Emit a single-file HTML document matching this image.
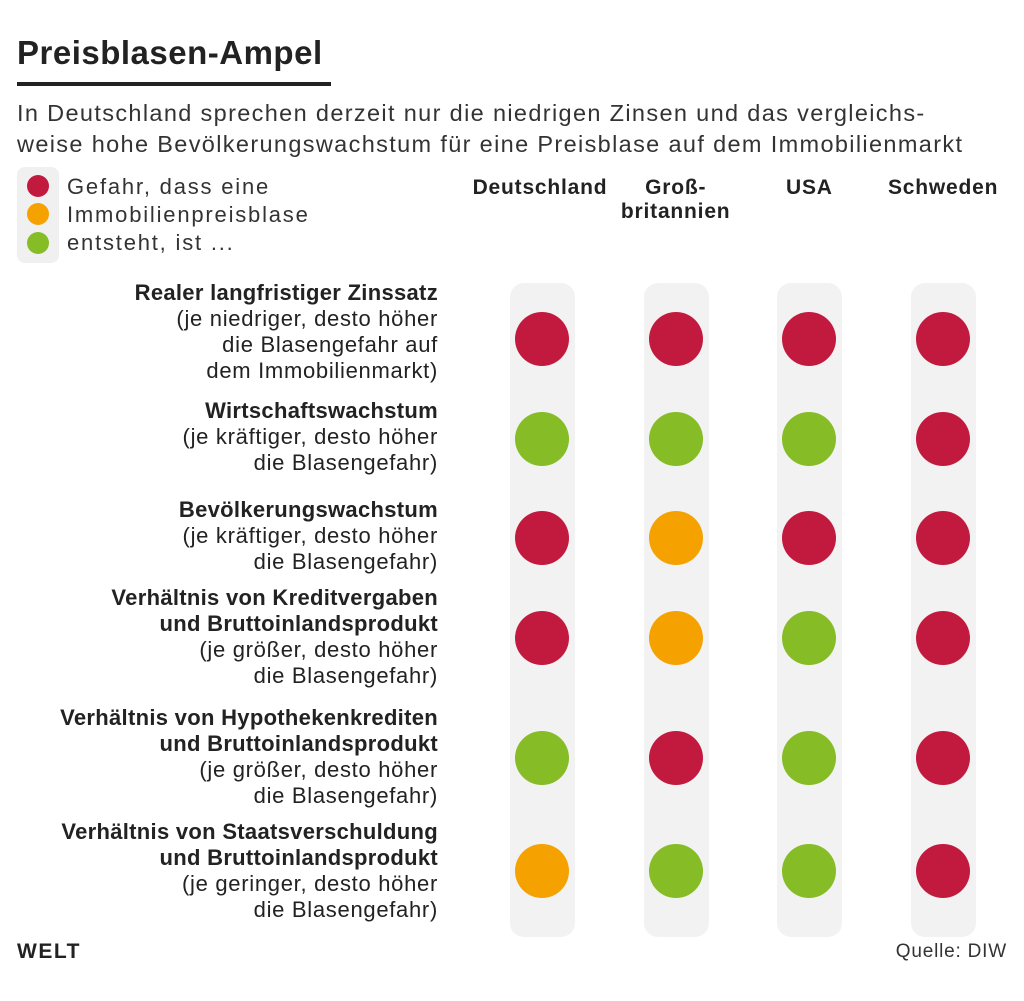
<!DOCTYPE html>
<html><head><meta charset="utf-8"><style>
body{margin:0;width:1024px;height:1001px;background:#fff;font-family:"Liberation Sans",sans-serif;color:#222;position:relative;overflow:hidden}
.a{position:absolute;white-space:nowrap}
.lbl{position:absolute;right:586px;text-align:right;font-size:22px;line-height:26px;white-space:nowrap;letter-spacing:0.7px}
.lbl b{font-weight:bold;letter-spacing:0.3px}
.hd{position:absolute;font-weight:bold;font-size:21px;text-align:center;line-height:24px;width:170px;letter-spacing:0.8px}
.panel{position:absolute;top:283px;height:654px;width:65px;background:#f2f2f2;border-radius:14px}
</style></head><body>
<div class="a" style="left:17px;top:34px;font-size:33px;font-weight:bold;letter-spacing:0.5px">Preisblasen-Ampel</div>
<div class="a" style="left:17px;top:82px;width:314px;height:4px;background:#222"></div>
<div class="a" style="left:17px;top:98px;font-size:23.5px;line-height:31px;color:#333;letter-spacing:1.35px">In Deutschland sprechen derzeit nur die niedrigen Zinsen und das vergleichs-<br>weise hohe Bevölkerungswachstum für eine Preisblase auf dem Immobilienmarkt</div>
<div class="a" style="left:17px;top:167px;width:42px;height:96px;background:#f0f0f0;border-radius:8px"></div>
<div class="a" style="left:27px;top:175px;width:22px;height:22px;border-radius:50%;background:#c21a3e"></div>
<div class="a" style="left:27px;top:203px;width:22px;height:22px;border-radius:50%;background:#f5a200"></div>
<div class="a" style="left:27px;top:232px;width:22px;height:22px;border-radius:50%;background:#86bc25"></div>
<div class="a" style="left:67px;top:173px;font-size:22px;line-height:28px;color:#333;letter-spacing:1.8px">Gefahr, dass eine<br>Immobilienpreisblase<br>entsteht, ist ...</div>
<div id="chart"></div>
<div class="a" style="left:17px;top:940px;font-size:21px;font-weight:bold;letter-spacing:1.5px">WELT</div>
<div class="a" style="right:17px;top:941px;font-size:19px;color:#333;letter-spacing:0.8px">Quelle: DIW</div>
<script>
const countries=["Deutschland","Groß-<br>britannien","USA","Schweden"];
const rowTitles=["Realer langfristiger Zinssatz","Wirtschaftswachstum","Bevölkerungswachstum","Verhältnis von Kreditvergaben<br>und Bruttoinlandsprodukt","Verhältnis von Hypothekenkrediten<br>und Bruttoinlandsprodukt","Verhältnis von Staatsverschuldung<br>und Bruttoinlandsprodukt"];
const rowNotes=["(je niedriger, desto höher<br>die Blasengefahr auf<br>dem Immobilienmarkt)","(je kräftiger, desto höher<br>die Blasengefahr)","(je kräftiger, desto höher<br>die Blasengefahr)","(je größer, desto höher<br>die Blasengefahr)","(je größer, desto höher<br>die Blasengefahr)","(je geringer, desto höher<br>die Blasengefahr)"];
const deutschland=["red","green","red","red","green","orange"];
const grossbritannien=["red","green","orange","orange","red","green"];
const usa=["red","green","red","green","green","green"];
const schweden=["red","red","red","red","red","red"];
const series=[deutschland,grossbritannien,usa,schweden];
const colors={red:"#c21a3e",orange:"#f5a200",green:"#86bc25"};
const colX=i=>542+i*133.7;
const rowTop=[280,398,497,585,705,819];
const circleY=[339,439,538,638,758,871];
const c=document.getElementById('chart');
countries.forEach((n,i)=>{
 const p=document.createElement('div');p.className='panel';p.style.left=(colX(i)-32)+'px';
 
 
 c.appendChild(p);
 const h=document.createElement('div');h.className='hd';h.innerHTML=n;h.style.left=(colX(i)-85+(i==0?-2:0))+'px';h.style.top='176px';
 
 
 c.appendChild(h);
});
rowTitles.forEach((t,r)=>{
 const l=document.createElement('div');l.className='lbl';l.style.top=rowTop[r]+'px';
 l.innerHTML='<b>'+t+'</b><br>'+rowNotes[r];
 
 
 c.appendChild(l);
 series.forEach((s,i)=>{
  const d=document.createElement('div');d.className='a';
  d.style.cssText=`left:${colX(i)-27}px;top:${circleY[r]-27}px;width:54px;height:54px;border-radius:50%;background:${colors[s[r]]}`;
  
  
  c.appendChild(d);
 });
});
</script>
</body></html>
